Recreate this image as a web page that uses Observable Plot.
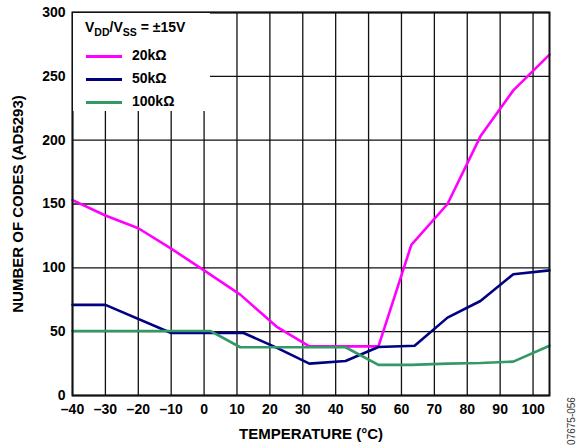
<!DOCTYPE html>
<html>
<head>
<meta charset="utf-8">
<script src="https://cdn.jsdelivr.net/npm/d3@7"></script>
<script src="https://cdn.jsdelivr.net/npm/@observablehq/plot@0.6"></script>
<style>
  html, body { margin: 0; padding: 0; background: #fff; }
  #wrap { position: relative; width: 579px; height: 446px; font-family: "Liberation Sans", Arial, sans-serif; }
  #wrap svg g[aria-label="x-axis label"] text, #wrap svg g[aria-label="y-axis label"] text { font-size: 15px; }
  #legend { position: absolute; left: 73px; top: 13px; width: 137px; height: 98px; background: #fff; font-weight: bold; color: #000; }
  #legend .title { position: absolute; left: 12px; top: 6px; font-size: 14px; white-space: nowrap; }
  #legend .title sub { font-size: 10.5px; vertical-align: -4px; }
  #legend .item { position: absolute; left: 13px; height: 16px; font-size: 14px; white-space: nowrap; }
  #legend .item span.sw { position: absolute; left: 0; top: 8px; width: 36px; height: 3px; }
  #legend .item span.lb { position: absolute; left: 46px; top: 0; }
  #stamp { position: absolute; left: 571px; top: 421px; transform: translate(-50%, -50%) rotate(-90deg); font-size: 10px; color: #333; white-space: nowrap; }
</style>
</head>
<body>
<div id="wrap"></div>
<script>
// Data
const temps20 = [-40, -30, -20, -10, 0, 11, 22, 32, 42, 53, 63, 74, 84, 94, 105];
const codes20 = [153, 141, 131, 115, 98, 79, 54, 38.5, 38.5, 38.5, 118, 150, 203, 239, 267];
const temps50 = [-40, -30, -10, 0, 12, 22, 32, 43, 53, 64, 74, 84, 94, 105];
const codes50 = [71, 71, 49, 49, 49, 37.5, 25, 27, 38, 39, 61, 74, 95, 98];
const temps100 = [-40, -30, -20, -10, 2, 11, 22, 32, 43, 53, 63, 74, 84, 94, 105];
const codes100 = [50.5, 50.5, 50.5, 50.5, 50.5, 37.8, 37.8, 37.8, 37.8, 24, 24, 25, 25.5, 26.5, 39];
const seriesNames = ["20kΩ", "50kΩ", "100kΩ"];
const seriesColors = ["#ff00ff", "#000080", "#339966"];
const xTicks = [-40, -30, -20, -10, 0, 10, 20, 30, 40, 50, 60, 70, 80, 90, 100];
const yTicks = [0, 50, 100, 150, 200, 250, 300];

const rows = [];
[[temps20, codes20], [temps50, codes50], [temps100, codes100]].forEach(([t, c], i) => {
  t.forEach((x, j) => rows.push({ series: seriesNames[i], t: x, v: c[j] }));
});

const fmt = d => (d < 0 ? "\u2013" + Math.abs(d) : String(d));

const chart = Plot.plot({
  width: 579,
  height: 446,
  marginLeft: 72,
  marginRight: 30,
  marginTop: 12,
  marginBottom: 51,
  style: { fontFamily: "'Liberation Sans', Arial, sans-serif", fontSize: "14px", fontWeight: "bold", color: "#000", background: "#fff" },
  x: { domain: [-40, 105], ticks: xTicks, tickFormat: fmt, tickSize: 0, tickPadding: 9, label: "TEMPERATURE (°C)", labelAnchor: "center", labelArrow: "none", labelOffset: 43 },
  y: { domain: [0, 300], ticks: yTicks, tickSize: 0, tickPadding: 7, label: "NUMBER OF CODES (AD5293)", labelAnchor: "center", labelArrow: "none", labelOffset: 60 },
  color: { domain: seriesNames, range: seriesColors },
  marks: [
    Plot.ruleX(xTicks, { stroke: "#111", strokeWidth: 1.3 }),
    Plot.ruleY(yTicks, { stroke: "#111", strokeWidth: 1.3 }),
    Plot.line(rows, { x: "t", y: "v", z: "series", stroke: "series", strokeWidth: 2.6, strokeLinejoin: "miter" }),
    Plot.frame({ stroke: "#111", strokeWidth: 2 })
  ]
});

const wrap = document.getElementById("wrap");
wrap.appendChild(chart);

const legend = document.createElement("div");
legend.id = "legend";
let html = '<div class="title">V<sub>DD</sub>/V<sub>SS</sub> = ±15V</div>';
const tops = [34, 57, 80];
seriesNames.forEach((n, i) => {
  html += `<div class="item" style="top:${tops[i]}px"><span class="sw" style="background:${seriesColors[i]}"></span><span class="lb">${n}</span></div>`;
});
legend.innerHTML = html;
wrap.appendChild(legend);

const stamp = document.createElement("div");
stamp.id = "stamp";
stamp.textContent = "07675-056";
wrap.appendChild(stamp);
</script>
</body>
</html>
